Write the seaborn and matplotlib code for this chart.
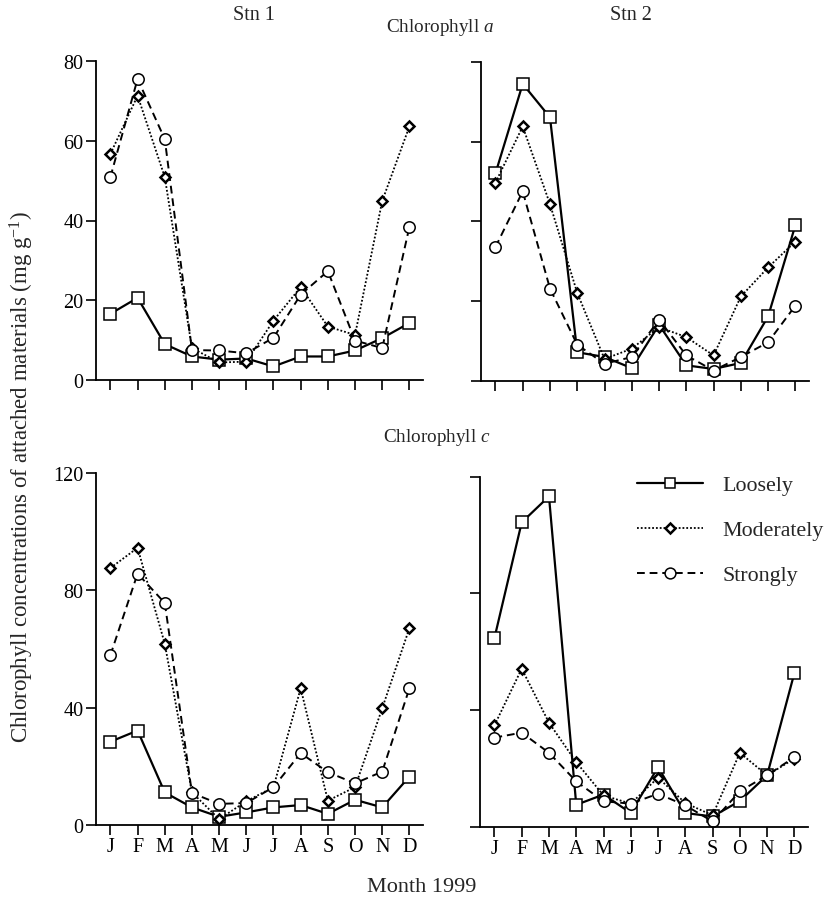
import matplotlib
matplotlib.use("Agg")
import matplotlib.pyplot as plt
import seaborn as sns
import pandas as pd
import numpy as np
from matplotlib.lines import Line2D

months = ["J", "F", "M", "A", "M", "J", "J", "A", "S", "O", "N", "D"]
series_names = ["Loosely", "Moderately", "Strongly"]

# Chlorophyll a, Stn 1
chla_stn1_loosely = [16.6, 20.6, 9.0, 5.9, 5.1, 5.4, 3.4, 5.9, 5.9, 7.4, 10.5, 14.3]
chla_stn1_moderately = [56.7, 71.3, 50.9, 8.0, 4.4, 4.6, 14.9, 23.3, 13.4, 11.3, 44.9, 63.6]
chla_stn1_strongly = [50.9, 75.5, 60.4, 7.5, 7.4, 6.7, 10.6, 21.4, 27.3, 9.9, 8.0, 38.4]

# Chlorophyll a, Stn 2
chla_stn2_loosely = [52.0, 74.5, 66.1, 7.1, 5.9, 3.1, 14.0, 3.8, 2.9, 4.4, 16.1, 39.0]
chla_stn2_moderately = [49.7, 63.8, 44.3, 22.0, 5.4, 8.0, 13.4, 10.9, 6.3, 21.1, 28.4, 34.9]
chla_stn2_strongly = [33.5, 47.5, 23.1, 9.0, 4.2, 5.9, 15.3, 6.3, 2.5, 5.9, 9.6, 18.8]

# Chlorophyll c, Stn 1
chlc_stn1_loosely = [28.4, 32.2, 11.1, 6.0, 2.8, 4.3, 6.0, 6.8, 3.8, 8.6, 6.0, 16.5]
chlc_stn1_moderately = [87.6, 94.5, 61.8, 11.1, 2.0, 8.1, 12.9, 46.6, 8.3, 12.9, 39.8, 67.1]
chlc_stn1_strongly = [57.9, 85.7, 75.7, 10.9, 7.2, 7.5, 12.9, 24.5, 18.0, 14.2, 18.2, 46.6]

# Chlorophyll c, Stn 2
chlc_stn2_loosely = [64.7, 104.3, 113.2, 7.6, 11.1, 4.8, 20.5, 4.8, 3.6, 8.9, 17.7, 52.7]
chlc_stn2_moderately = [34.8, 54.2, 35.7, 22.2, 10.8, 8.0, 16.9, 8.2, 4.0, 25.4, 17.7, 23.4]
chlc_stn2_strongly = [30.6, 32.3, 25.4, 15.6, 8.8, 8.0, 11.4, 7.4, 1.9, 12.2, 17.7, 23.9]

sns.set_theme(style="ticks")
plt.rcParams["font.family"] = ["Liberation Serif", "DejaVu Serif"]
plt.rcParams["mathtext.fontset"] = "custom"
plt.rcParams["mathtext.rm"] = "Liberation Serif"
plt.rcParams["mathtext.it"] = "Liberation Serif:italic"

fig = plt.figure(figsize=(8.24, 9.04), dpi=100)

W, H = 824.0, 904.0
def ax_at(l, r, t, b):
    return fig.add_axes([l / W, 1 - b / H, (r - l) / W, (b - t) / H])

panels = [
    (ax_at(96, 423, 62, 381), [chla_stn1_loosely, chla_stn1_moderately, chla_stn1_strongly], 80, [0, 20, 40, 60, 80], True, False),
    (ax_at(481, 809, 63, 381.5), [chla_stn2_loosely, chla_stn2_moderately, chla_stn2_strongly], 80, [0, 20, 40, 60, 80], False, False),
    (ax_at(96, 423, 474, 826), [chlc_stn1_loosely, chlc_stn1_moderately, chlc_stn1_strongly], 120, [0, 40, 80, 120], True, True),
    (ax_at(480, 808, 477.5, 828), [chlc_stn2_loosely, chlc_stn2_moderately, chlc_stn2_strongly], 120, [0, 40, 80, 120], False, True),
]

styles = {
    "Loosely": dict(linestyle="-", marker="s", markersize=8.0, linewidth=1.6, markeredgewidth=1.1),
    "Moderately": dict(linestyle=(0, (1, 1.1)), marker="D", markersize=5.3, linewidth=1.3, markeredgewidth=1.8),
    "Strongly": dict(linestyle=(0, (4, 2.5)), marker="o", markersize=8.2, linewidth=1.4, markeredgewidth=1.1),
}

x = np.arange(12)
for ax, vals, ymax, yticks, show_ylabels, show_xlabels in panels:
    for name, v in zip(series_names, vals):
        df = pd.DataFrame({"m": x, "v": v})
        st = styles[name]
        sns.lineplot(data=df, x="m", y="v", ax=ax, color="black",
                     linestyle=st["linestyle"], linewidth=st["linewidth"],
                     marker=st["marker"], markersize=st["markersize"],
                     markerfacecolor="white", markeredgecolor="black",
                     markeredgewidth=st["markeredgewidth"], legend=False)
    ax.set_xlim(-0.53, 11.5)
    ax.set_ylim(0, ymax)
    ax.set_yticks(yticks)
    ax.set_xticks(x)
    ax.set_xlabel("")
    ax.set_ylabel("")
    if show_xlabels:
        ax.set_xticklabels(months)
    else:
        ax.set_xticklabels([])
    if not show_ylabels:
        ax.set_yticklabels([])
    for s in ["top", "right"]:
        ax.spines[s].set_visible(False)
    for s in ["left", "bottom"]:
        ax.spines[s].set_linewidth(1.3)
        ax.spines[s].set_color("black")
    ax.tick_params(axis="both", direction="out", length=7, width=1.2, colors="black",
                   labelsize=14.5, pad=2)
    ax.patch.set_alpha(0)
    for ln in ax.lines:
        ln.set_clip_on(False)

# Legend in bottom-right panel
handles = []
for name in series_names:
    st = styles[name]
    handles.append(Line2D([0], [0], color="black", linestyle=st["linestyle"],
                          linewidth=st["linewidth"], marker=st["marker"],
                          markersize=st["markersize"] * 0.95, markerfacecolor="white",
                          markeredgecolor="black", markeredgewidth=st["markeredgewidth"]))
fig.legend(handles, series_names, loc="upper left", bbox_to_anchor=(637 / W, 1 - 476 / H),
           frameon=False, fontsize=15.8, handlelength=3.0, handletextpad=0.9,
           labelspacing=1.12, borderaxespad=0, borderpad=0)

fig.text(254 / W, 1 - 15 / H, "Stn 1", ha="center", va="center", fontsize=14.5)
fig.text(631 / W, 1 - 15 / H, "Stn 2", ha="center", va="center", fontsize=14.5)
fig.text(440 / W, 1 - 28 / H, "Chlorophyll $\\mathit{a}$", ha="center", va="center", fontsize=13.8)
fig.text(437 / W, 1 - 438 / H, "Chlorophyll $\\mathit{c}$", ha="center", va="center", fontsize=13.8)
fig.text(422 / W, 1 - 888 / H, "Month 1999", ha="center", va="center", fontsize=16)
fig.text(22 / W, 1 - 477 / H, "Chlorophyll concentrations of attached materials (mg g$^{-1}$)",
         ha="center", va="center", rotation=90, fontsize=16.5)

fig.savefig("out.png", dpi=100, facecolor="white")
